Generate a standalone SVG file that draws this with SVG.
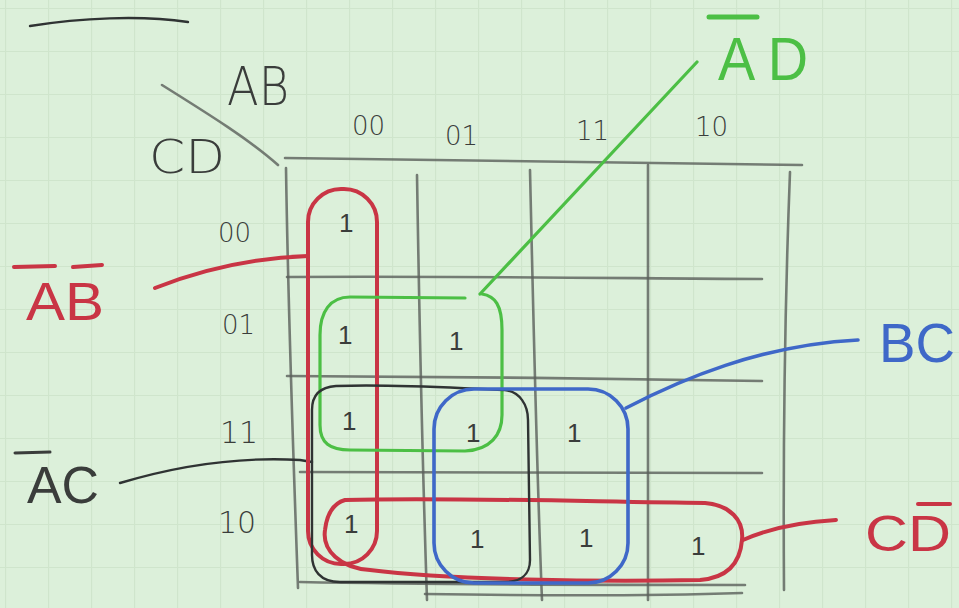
<svg xmlns="http://www.w3.org/2000/svg" width="959" height="608" viewBox="0 0 959 608">
<defs>
<pattern id="paper" width="43" height="43" patternUnits="userSpaceOnUse" x="5" y="8">
<rect width="43" height="43" fill="#dcf0da"/>
<path d="M0,0.5 H43 M0.5,0 V43" stroke="#cfe5cc" stroke-width="1.2" fill="none"/>
</pattern>
<style>
.grid{fill:none;stroke:#5a5f5a;stroke-width:2.6;stroke-linecap:round;opacity:.8}
.pen{fill:none;stroke-linecap:round;stroke-linejoin:round}
.red{stroke:#c93545;stroke-width:4}
.green{stroke:#4cbf45;stroke-width:3.2}
.blue{stroke:#3f68c8;stroke-width:3.6}
.black{stroke:#2f3333;stroke-width:2.4}
.t{font-family:"DejaVu Sans","Liberation Sans",sans-serif;fill:#3a3d3b;font-weight:300}
.lbl{font-family:"Liberation Sans","DejaVu Sans",sans-serif;font-weight:400}
.one{font-family:"Liberation Sans",sans-serif;font-size:26px;fill:#3a3d3b}
</style>
</defs>
<rect width="959" height="608" fill="url(#paper)"/>
<path d="M30,26 C80,18 140,15 188,22" class="pen black" stroke-width="3"/>

<g id="grid">
<path class="grid" d="M285,158 C400,160 600,163 802,165"/>
<path class="grid" d="M286,168 C288,300 293,450 298,588"/>
<path class="grid" d="M417,175 C419,300 422,450 427,600"/>
<path class="grid" d="M530,170 C533,300 536,450 542,600"/>
<path class="grid" d="M648,165 C648,300 647,450 648,600"/>
<path class="grid" d="M790,172 C785,300 783,450 784,590"/>
<path class="grid" d="M287,277 C450,276 600,278 762,279"/>
<path class="grid" d="M287,376 C450,377 600,378 762,381"/>
<path class="grid" d="M300,472 C450,471 600,472 762,473"/>
<path class="grid" d="M300,582 C450,585 600,585 745,585"/>
<path class="grid" d="M425,594 C550,596 650,596 742,593"/>
<path class="grid" d="M162,85 C210,115 250,140 278,165"/>
</g>

<g id="axis-labels" class="t">
<text x="227" y="105" font-size="54" textLength="62" lengthAdjust="spacingAndGlyphs">AB</text>
<text x="149" y="173" font-size="46" textLength="76" lengthAdjust="spacingAndGlyphs">CD</text>
<text x="352" y="135" font-size="26">00</text>
<text x="445" y="145" font-size="26">01</text>
<text x="576" y="140" font-size="26">11</text>
<text x="695" y="136" font-size="26">10</text>
<text x="218" y="242" font-size="26">00</text>
<text x="222" y="334" font-size="26">01</text>
<text x="220" y="443" font-size="30">11</text>
<text x="218" y="533" font-size="30">10</text>
</g>

<g id="cells" class="one">
<text x="339" y="232">1</text>
<text x="338" y="344">1</text>
<text x="449" y="350">1</text>
<text x="342" y="430">1</text>
<text x="466" y="442">1</text>
<text x="567" y="442">1</text>
<text x="344" y="533">1</text>
<text x="470" y="548">1</text>
<text x="579" y="547">1</text>
<text x="691" y="555">1</text>
</g>

<g id="connectors">
<path class="pen red" d="M155,288 C200,270 250,258 308,256"/>
<path class="pen green" d="M480,294 L697,62"/>
<path class="pen black" d="M120,483 C170,468 230,456 300,460 L312,462"/>
<path class="pen blue" d="M626,408 C680,380 760,345 858,340"/>
<path class="pen red" d="M743,540 C770,528 800,522 836,520"/>
</g>

<g id="group-AB">
<rect class="pen red" x="308" y="189" width="69" height="375" rx="33"/>
</g>
<g id="group-CD">
<path class="pen red" d="M345,500 C450,497 600,502 705,503 C730,505 744,520 742,540 C740,565 725,578 700,580 C600,582 450,580 370,570 C340,568 322,550 325,530 C327,512 335,503 345,500 Z"/>
</g>
<g id="group-AD">
<path class="pen green" d="M465,298 L350,297 C330,297 320,312 320,335 L320,425 C320,443 330,450 350,450 L465,451 C490,450 502,435 502,415 L502,330 C502,305 495,296 482,294"/>
</g>
<g id="group-AC">
<path class="pen black" d="M336,386 C400,384 450,388 505,390 C520,392 528,405 528,420 L530,560 C530,575 520,582 505,582 L340,582 C320,582 312,570 312,555 L312,410 C312,395 320,387 336,386 Z"/>
</g>
<g id="group-BC">
<rect class="pen blue" x="434" y="389" width="194" height="194" rx="40"/>
</g>

<g id="labels" class="lbl">
<text x="718" y="80" font-size="62" fill="#4cbf45" textLength="90" lengthAdjust="spacingAndGlyphs">A D</text>
<line x1="709" y1="17" x2="757" y2="17" stroke="#4cbf45" stroke-width="5" stroke-linecap="round"/>
<text x="26" y="320" font-size="54" fill="#c93545" textLength="78" lengthAdjust="spacingAndGlyphs">AB</text>
<line x1="14" y1="267" x2="55" y2="266" stroke="#c93545" stroke-width="4" stroke-linecap="round"/>
<line x1="73" y1="267" x2="102" y2="265" stroke="#c93545" stroke-width="4" stroke-linecap="round"/>
<text x="27" y="503" font-size="52" fill="#3a3d3b" font-weight="300" textLength="72" lengthAdjust="spacingAndGlyphs">AC</text>
<line x1="15" y1="453" x2="50" y2="452" stroke="#3a3d3b" stroke-width="3" stroke-linecap="round"/>
<text x="879" y="362" font-size="56" fill="#3f68c8" textLength="76" lengthAdjust="spacingAndGlyphs">BC</text>
<text x="865" y="551" font-size="50" fill="#c93545" textLength="86" lengthAdjust="spacingAndGlyphs">CD</text>
<line x1="918" y1="504" x2="950" y2="504" stroke="#c93545" stroke-width="4" stroke-linecap="round"/>
</g>
</svg>
